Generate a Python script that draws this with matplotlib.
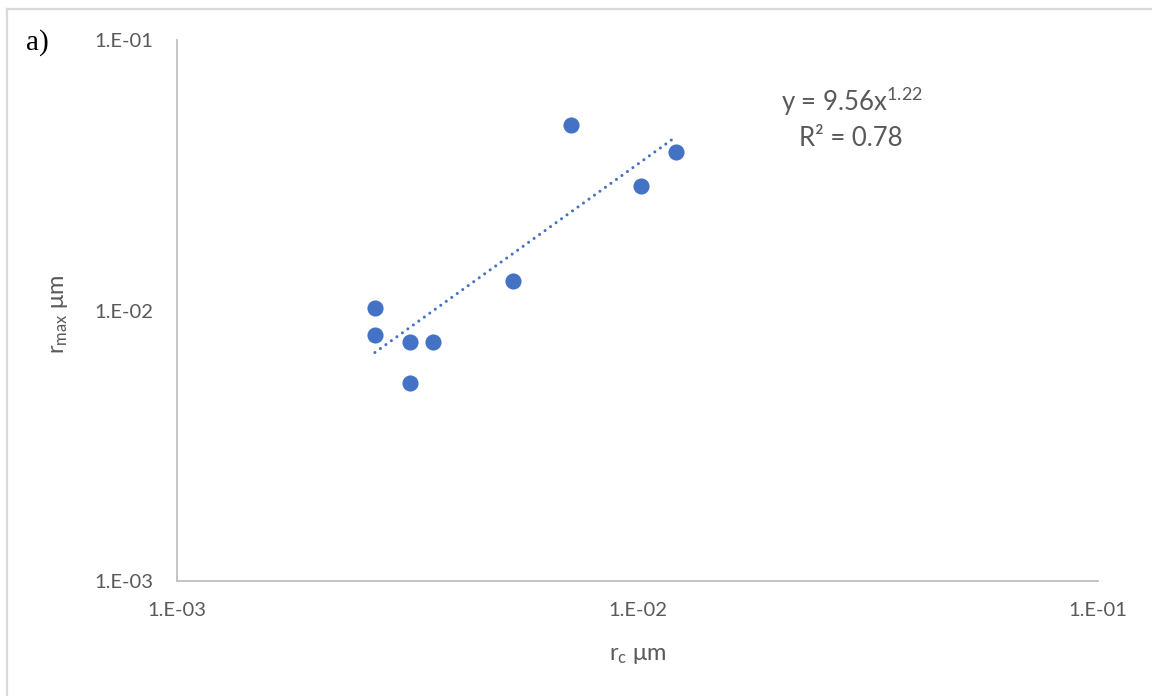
import numpy as np
import matplotlib
matplotlib.use("Agg")
import matplotlib.pyplot as plt
from matplotlib.lines import Line2D

# Data
rc = [0.00269, 0.00269, 0.00321, 0.00321, 0.00360, 0.00537, 0.00717, 0.01018, 0.01212]
rmax = [0.0102, 0.00812, 0.00765, 0.00540, 0.00765, 0.01285, 0.0485, 0.0288, 0.0385]
fit_a = 9.56
fit_b = 1.22
r2 = 0.78
tick_vals = [1e-3, 1e-2, 1e-1]
tick_labels = ["1.E-03", "1.E-02", "1.E-01"]

plt.rcParams['font.family'] = ['Lato', 'DejaVu Sans']
plt.rcParams['mathtext.default'] = 'regular'

W, H = 1152, 696
fig = plt.figure(figsize=(W / 100, H / 100), dpi=100)
ax = fig.add_axes([177 / W, 1 - 581 / H, (1098 - 177) / W, (581 - 40) / H])

ax.set_xscale('log')
ax.set_yscale('log')
ax.set_xlim(1e-3, 1e-1)
ax.set_ylim(1e-3, 1e-1)

blue = '#4472C4'
ax.scatter(rc, rmax, s=135, color=blue, zorder=3, linewidths=0)

xs = np.logspace(np.log10(min(rc)), np.log10(max(rc)), 50)
ax.plot(xs, fit_a * xs ** fit_b, color=blue, lw=2.2,
        linestyle=(0, (0.01, 2.2)), dash_capstyle='round', zorder=2)

ax.set_xticks(tick_vals)
ax.set_xticklabels(tick_labels)
ax.set_yticks(tick_vals)
ax.set_yticklabels(tick_labels)
ax.minorticks_off()
ax.tick_params(length=0, labelsize=14.5, labelcolor='#595959')
ax.tick_params(axis='x', pad=15)
ax.tick_params(axis='y', pad=17)

for s in ['top', 'right']:
    ax.spines[s].set_visible(False)
for s in ['left', 'bottom']:
    ax.spines[s].set_color('#BFBFBF')
    ax.spines[s].set_linewidth(1.3)

ax.set_xlabel(r'r$_{c}$ μm', fontsize=17, color='#595959', va='center')
ax.xaxis.set_label_coords(0.5, (581 - 655) / 541)
ax.set_ylabel(r'r$_{max}$ μm', fontsize=17, color='#595959', va='center')
ax.yaxis.set_label_coords((60 - 177) / 921, (581 - 314) / 541)

fig.text(852 / W, 1 - 102 / H, 'y = 9.56x$^{1.22}$', fontsize=18.5, color='#595959',
         ha='center', va='center')
fig.text(851 / W, 1 - 138 / H, 'R² = 0.78', fontsize=18.5, color='#595959',
         ha='center', va='center')

fig.text(26 / W, 1 - 43 / H, 'a)', fontsize=21, family='Liberation Serif',
         color='black', ha='left', va='center')

# partial frame border
fig.add_artist(Line2D([7 / W, 7 / W], [0, 1 - 9 / H], transform=fig.transFigure,
                      color='#D9D9D9', lw=1.6))
fig.add_artist(Line2D([7 / W, 1], [1 - 9 / H, 1 - 9 / H], transform=fig.transFigure,
                      color='#D9D9D9', lw=1.6))

fig.savefig('out.png', dpi=100, facecolor='white')
